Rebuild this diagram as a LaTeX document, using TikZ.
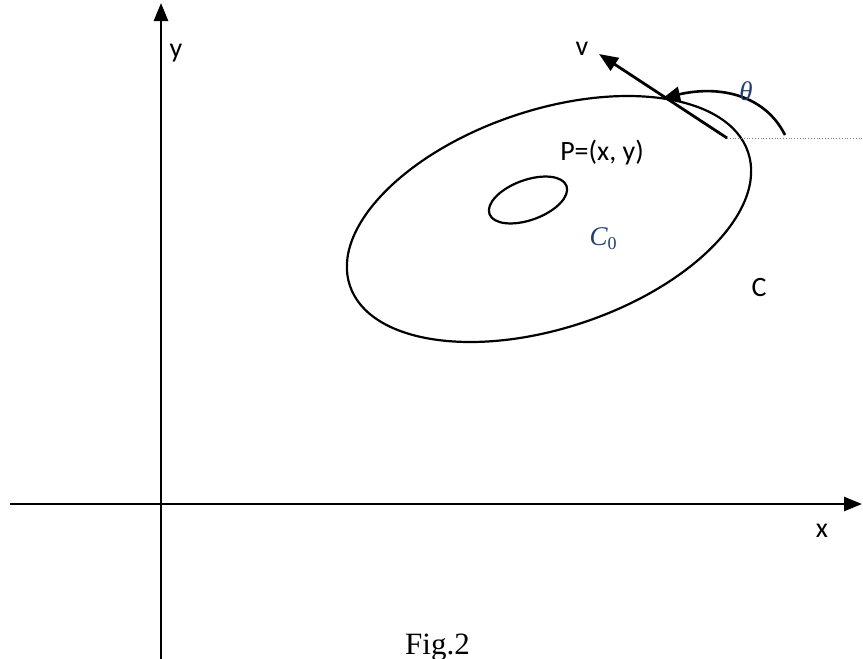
\documentclass[tikz,border=0pt]{standalone}
\usepackage{fontspec}
\setmainfont{Liberation Serif}
\newfontfamily\lblfont{Carlito}
\usetikzlibrary{arrows.meta}
\definecolor{mathblue}{HTML}{243F73}
\tikzset{
  axis/.style={line width=2.6pt, -{Triangle[length=18pt,width=14pt]}},
  curve/.style={line width=2.2pt},
  lbl/.style={font=\lblfont\fontsize{28}{32}\selectfont, anchor=base, inner sep=0pt},
  mlbl/.style={font=\fontsize{27}{30}\selectfont\itshape, text=mathblue, anchor=base, inner sep=0pt},
  figlbl/.style={font=\fontsize{31}{36}\selectfont, anchor=base, inner sep=0pt}
}
\begin{document}
\begin{tikzpicture}[x=1pt,y=-1pt]
\useasboundingbox (0,0) rectangle (863,659);
% axes
\coordinate (ybot) at (161,659);
\coordinate (ytop) at (161,3);
\coordinate (xl) at (10,504);
\coordinate (xr) at (862,504);
\draw[axis] (ybot) -- (ytop);
\draw[axis] (xl) -- (xr);
% outer curve C
\draw[curve, rotate around={18.5:(549,219)}] (549,219) ellipse [x radius=210, y radius=109];
% inner curve C0
\draw[curve, rotate around={20:(528,200)}] (528,200) ellipse [x radius=41, y radius=20];
% tangent vector v
\coordinate (P) at (727,138);
\coordinate (vtip) at (599,54);
\draw[line width=2.8pt, -{Triangle[length=19pt,width=15pt]}] (P) -- (vtip);
% dotted horizontal
\coordinate (dright) at (863,138);
\draw[line width=0.8pt, gray, dotted] (P) -- (dright);
% theta arc
\coordinate (th0) at (785,135);
\coordinate (th1) at (663,98);
\draw[line width=2.6pt, -{Triangle[length=17pt,width=15pt]}] (th0) .. controls (765,95) and (720,85) .. (th1);
% labels
\node[lbl] (ylab) at (176,57) {y};
\node[lbl] (xlab) at (822,537) {x};
\node[lbl] (vlab) at (582,55) {v};
\node[lbl] (Clab) at (759,296) {C};
\node[lbl] (Plab) at (602,160) {P=(x, y)};
\node[mlbl] (thlab) at (746,100) {θ};
\node[mlbl] (C0lab) at (603,245) {C\raisebox{-4pt}{\upshape\fontsize{18}{20}\selectfont 0}};
\node[figlbl] (fig) at (437.5,654) {Fig.2};
\end{tikzpicture}
\end{document}
